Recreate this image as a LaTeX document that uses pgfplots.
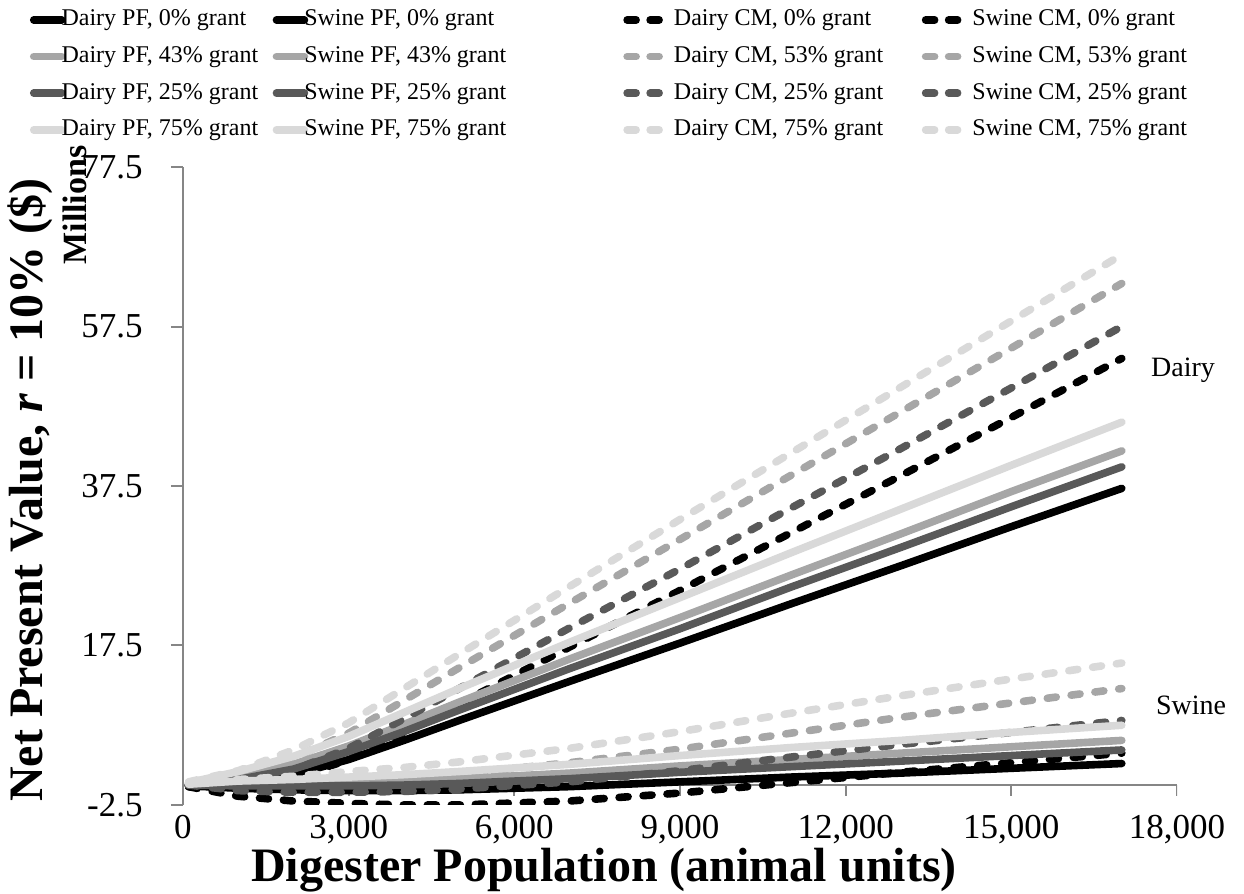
\documentclass[border=0pt]{standalone}
\usepackage{fontspec}
\setmainfont{Liberation Serif}
\usepackage{pgfplots}
\pgfplotsset{compat=1.18}
\usepackage{pgfplotstable}

\definecolor{c0}{HTML}{000000}
\definecolor{c25}{HTML}{595959}
\definecolor{c43}{HTML}{A6A6A6}
\definecolor{c75}{HTML}{D9D9D9}
\definecolor{axc}{HTML}{868686}

\pgfplotstableread{
x     PF0   PF25  PF43  PF75  CM0   CM25  CM53  CM75
100   -0.1  0.0   0.1   0.3   -0.2  0.0   0.2   0.4
1000  0.2   0.7   1.1   1.7   -0.6  0.1   1.1   1.8
2000  1.3   2.0   2.6   3.6   0.8   1.9   3.4   4.4
3000  3.2   4.2   4.9   6.1   3.2   4.6   6.5   7.8
4000  5.6   6.7   7.6   9.1   6.6   8.3   10.6  12.1
5000  8.1   9.4   10.4  12.1  10.2  12.1  14.7  16.4
7000  13.0  14.6  15.8  17.9  17.3  19.7  22.8  24.9
9000  17.8  19.6  21.0  23.5  24.4  27.1  30.8  33.3
11000 22.7  24.8  26.3  29.1  31.6  34.7  38.8  41.6
13000 27.5  29.8  31.5  34.6  38.8  42.2  46.8  49.9
15000 32.4  34.9  36.8  40.1  46.1  49.8  54.8  58.2
17000 37.2  39.9  41.9  45.5  53.5  57.5  62.9  66.5
}\dairy

\pgfplotstableread{
x     PF0   PF25  PF43  PF75  CM0   CM25  CM53  CM75
100   -0.1  0.0   0.0   0.1   -0.2  0.0   0.2   0.3
1000  -0.4  -0.1  0.1   0.5   -1.4  -0.7  0.1   0.7
2000  -0.6  -0.1  0.2   0.7   -2.0  -0.9  0.2   1.1
3000  -0.7  -0.1  0.3   1.0   -2.3  -0.9  0.6   1.7
4000  -0.7  0.0   0.5   1.3   -2.5  -0.8  0.9   2.2
5000  -0.6  0.2   0.8   1.7   -2.5  -0.5  1.4   2.9
7000  -0.2  0.8   1.5   2.6   -2.0  0.4   2.8   4.6
9000  0.4   1.6   2.4   3.7   -1.0  1.8   4.5   6.7
11000 1.0   2.3   3.2   4.7   0.3   3.5   6.5   9.0
13000 1.5   3.0   4.0   5.6   1.6   5.1   8.5   11.2
15000 2.1   3.7   4.8   6.6   2.8   6.6   10.3  13.3
17000 2.7   4.4   5.6   7.5   4.0   8.1   12.1  15.3
}\swine

\pgfplotsset{
  sline/.style={solid, line width=3.8pt, line cap=round, line join=round,
    legend image code/.code={\path (0pt,0pt) (14pt,0pt);
      \draw[##1,line cap=round,overlay] (2pt,0pt) -- (16pt,0pt);}},
  dline/.style={line width=3.8pt, line cap=round, line join=round,
    dash pattern=on 4.5pt off 7.5pt,
    legend image code/.code={\path (0pt,0pt) (23.5pt,0pt);
      \draw[##1,solid,line cap=round] (2pt,0pt) -- (6.5pt,0pt);
      \draw[##1,solid,line cap=round] (13.5pt,0pt) -- (18pt,0pt);}},
}

\begin{document}
\begin{tikzpicture}
\useasboundingbox (0,0) rectangle (622pt,447pt);
\begin{axis}[
  at={(91.5pt,44.5pt)}, anchor=south west,
  scale only axis, width=497pt, height=319pt,
  xmin=0, xmax=18000, ymin=-2.5, ymax=77.5,
  scaled x ticks=false, scaled y ticks=false,
  xtick={0,3000,6000,9000,12000,15000,18000},
  xticklabels={0,{3,000},{6,000},{9,000},{12,000},{15,000},{18,000}},
  ytick={-2.5,17.5,37.5,57.5,77.5},
  yticklabels={-2.5,17.5,37.5,57.5,77.5},
  axis y line*=left, axis x line*=bottom,
  x axis line style={draw=none},
  y axis line style={axc, line width=1pt},
  tick align=outside, major tick length=6pt,
  major x tick style={draw=none},
  major y tick style={axc, line width=1pt},
  ticklabel style={font=\fontsize{17.5}{21}\selectfont},
  xticklabel style={anchor=north, inner sep=0pt, yshift=1pt},
  yticklabel style={anchor=east, inner sep=0pt, xshift=-14pt},
  legend columns=4,
  legend cell align=left,
  legend style={draw=none, fill=none, at={(-0.158,1.2493)}, anchor=north west,
    inner sep=0pt, outer sep=0pt, font=\fontsize{12}{14}\selectfont,
    /tikz/column sep=0pt, /tikz/row sep=6.3pt,
    nodes={inner sep=0pt, text height=9pt, text depth=3pt, anchor=west},
    /tikz/column 2/.style={column sep=5.2pt},
    /tikz/column 4/.style={column sep=56.5pt},
    /tikz/column 6/.style={column sep=17.3pt}},
]
\draw[axc, line width=1pt] (axis cs:0,0) -- (axis cs:18000,0);
\pgfplotsinvokeforeach{0,3000,6000,9000,12000,15000,18000}{
  \draw[axc, line width=1pt] (axis cs:#1,0) -- ([yshift=-5.5pt]axis cs:#1,0);}

\addplot[sline, c0] table[x=x, y=PF0] {\dairy};
\addlegendentry{Dairy PF, 0\% grant}
\addplot[sline, c0] table[x=x, y=PF0] {\swine};
\addlegendentry{Swine PF, 0\% grant}
\addplot[dline, c0] table[x=x, y=CM0] {\dairy};
\addlegendentry{Dairy CM, 0\% grant}
\addplot[dline, c0] table[x=x, y=CM0] {\swine};
\addlegendentry{Swine CM, 0\% grant}

\addplot[sline, c43] table[x=x, y=PF43] {\dairy};
\addlegendentry{Dairy PF, 43\% grant}
\addplot[sline, c43] table[x=x, y=PF43] {\swine};
\addlegendentry{Swine PF, 43\% grant}
\addplot[dline, c43] table[x=x, y=CM53] {\dairy};
\addlegendentry{Dairy CM, 53\% grant}
\addplot[dline, c43] table[x=x, y=CM53] {\swine};
\addlegendentry{Swine CM, 53\% grant}

\addplot[sline, c25] table[x=x, y=PF25] {\dairy};
\addlegendentry{Dairy PF, 25\% grant}
\addplot[sline, c25] table[x=x, y=PF25] {\swine};
\addlegendentry{Swine PF, 25\% grant}
\addplot[dline, c25] table[x=x, y=CM25] {\dairy};
\addlegendentry{Dairy CM, 25\% grant}
\addplot[dline, c25] table[x=x, y=CM25] {\swine};
\addlegendentry{Swine CM, 25\% grant}

\addplot[sline, c75] table[x=x, y=PF75] {\dairy};
\addlegendentry{Dairy PF, 75\% grant}
\addplot[sline, c75] table[x=x, y=PF75] {\swine};
\addlegendentry{Swine PF, 75\% grant}
\addplot[dline, c75] table[x=x, y=CM75] {\dairy};
\addlegendentry{Dairy CM, 75\% grant}
\addplot[dline, c75] table[x=x, y=CM75] {\swine};
\addlegendentry{Swine CM, 75\% grant}
\end{axis}
\node[rotate=90, inner sep=0pt, font=\bfseries\fontsize{24}{28}\selectfont] at (15pt,202pt)
  {Net Present Value, \textit{r} = 10\% (\$)};
\node[rotate=90, inner sep=0pt, font=\bfseries\fontsize{17}{20}\selectfont] at (37.5pt,344.5pt) {Millions};
\node[inner sep=0pt, font=\bfseries\fontsize{24}{28}\selectfont] at (302pt,12pt) {Digester Population (animal units)};
\node[font=\fontsize{14}{17}\selectfont] at (591.5pt,262pt) {Dairy};
\node[font=\fontsize{14}{17}\selectfont] at (595.5pt,94.5pt) {Swine};
\end{tikzpicture}
\end{document}
